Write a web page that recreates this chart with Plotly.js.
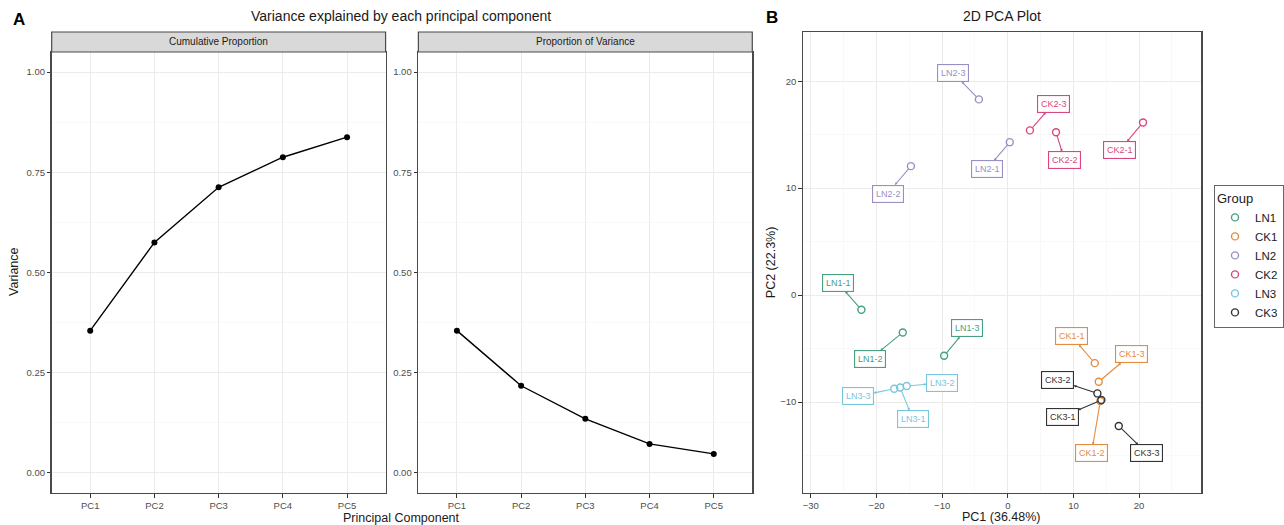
<!DOCTYPE html>
<html>
<head>
<meta charset="utf-8">
<script src="https://cdn.plot.ly/plotly-3.0.1.min.js"></script>
<style>html,body{margin:0;padding:0;background:#fff;}#chart{width:1284px;height:525px;}</style>
</head>
<body>
<div id="chart"></div>
<script>
// ---- Panel A data ----
const components = ['PC1', 'PC2', 'PC3', 'PC4', 'PC5'];
const cumulativeProportion = [0.355, 0.575, 0.7125, 0.7875, 0.8375];
const proportionOfVariance = [0.355, 0.2175, 0.135, 0.0725, 0.0475];
const yTicksA = [0, 0.25, 0.5, 0.75, 1];
const yTickTextA = ['0.00', '0.25', '0.50', '0.75', '1.00'];

// ---- Panel B data ----
const groupOrder = ['LN1', 'CK1', 'LN2', 'CK2', 'LN3', 'CK3'];
const groupColors = ['#45a181', '#e48b3d', '#998fc2', '#dc4580', '#78c6de', '#333333'];
const sampleNames = ['LN1-1','LN1-2','LN1-3','CK1-1','CK1-2','CK1-3','LN2-1','LN2-2','LN2-3','CK2-1','CK2-2','CK2-3','LN3-1','LN3-2','LN3-3','CK3-1','CK3-2','CK3-3'];
const sampleGroups = ['LN1','LN1','LN1','CK1','CK1','CK1','LN2','LN2','LN2','CK2','CK2','CK2','LN3','LN3','LN3','CK3','CK3','CK3'];
const pc1 = [-22.3, -16.0, -9.7, 13.25, 14.1, 13.85, 0.3, -14.76, -4.4, 20.6, 7.35, 3.37, -16.4, -15.4, -17.3, 14.25, 13.65, 16.9];
const pc2 = [-1.37, -3.49, -5.67, -6.36, -9.9, -8.1, 14.3, 12.06, 18.3, 16.14, 15.23, 15.4, -8.63, -8.5, -8.76, -9.81, -9.19, -12.24];
const labelPc1 = [-25.9, -21.0, -6.24, 9.7, 12.74, 18.8, -3.2, -18.3, -8.3, 17.07, 8.66, 6.95, -14.45, -10.0, -22.8, 8.26, 7.6, 21.2];
const labelPc2 = [1.15, -6.0, -3.11, -3.83, -14.8, -5.54, 11.78, 9.5, 20.78, 13.55, 12.6, 17.9, -11.6, -8.2, -9.44, -11.37, -7.94, -14.8];

const W = 1284, H = 525;
const px = v => v / W;
const py = v => 1 - v / H;
const FONT = 'Liberation Sans, Arial, sans-serif';
const TICKC = '#4d4d4d';
const BORDER = '#4a4a4a';

const traces = [];
traces.push({
  x: components, y: cumulativeProportion, xaxis: 'x', yaxis: 'y',
  type: 'scatter', mode: 'lines+markers', showlegend: false, hoverinfo: 'skip',
  line: {color: '#000', width: 1.4}, marker: {color: '#000', size: 6}
});
traces.push({
  x: components, y: proportionOfVariance, xaxis: 'x2', yaxis: 'y2',
  type: 'scatter', mode: 'lines+markers', showlegend: false, hoverinfo: 'skip',
  line: {color: '#000', width: 1.4}, marker: {color: '#000', size: 6}
});

groupOrder.forEach((g, gi) => {
  const xs = [], ys = [];
  sampleGroups.forEach((sg, i) => { if (sg === g) { xs.push(pc1[i]); ys.push(pc2[i]); } });
  traces.push({
    x: xs, y: ys, xaxis: 'x3', yaxis: 'y3', name: g,
    type: 'scatter', mode: 'markers',
    marker: {symbol: 'circle-open', size: 7, color: groupColors[gi], line: {width: 1.4, color: groupColors[gi]}}
  });
});

const annotations = [];
// repel-like labels
sampleNames.forEach((n, i) => {
  const c = groupColors[groupOrder.indexOf(sampleGroups[i])];
  annotations.push({
    x: pc1[i], y: pc2[i], xref: 'x3', yref: 'y3',
    ax: labelPc1[i], ay: labelPc2[i], axref: 'x3', ayref: 'y3',
    text: n, showarrow: true, arrowcolor: c, arrowwidth: 1.1,
    arrowside: 'start', startarrowhead: 2, startarrowsize: 0.5,
    standoff: 3.5, startstandoff: 0,
    font: {family: FONT, size: 9, color: c},
    bordercolor: c, borderwidth: 1.1, borderpad: 2.8, bgcolor: 'rgba(255,255,255,0.95)'
  });
});

function paperText(text, x, y, size, opts) {
  return Object.assign({
    text: text, xref: 'paper', yref: 'paper', x: px(x), y: py(y),
    xanchor: 'center', yanchor: 'middle', showarrow: false,
    font: {family: FONT, size: size, color: '#1a1a1a'}
  }, opts || {});
}
annotations.push(paperText('<b>A</b>', 19, 19, 17, {font: {family: FONT, size: 17, color: '#000'}}));
annotations.push(paperText('<b>B</b>', 777, 18, 17, {font: {family: FONT, size: 17, color: '#000'}}));
annotations.push(paperText('Variance explained by each principal component', 404, 16, 14));
annotations.push(paperText('2D PCA Plot', 1008, 16, 14));
annotations.push(paperText('Cumulative Proportion', 220, 42, 10, {font: {family: FONT, size: 10, color: '#1a1a1a'}}));
annotations.push(paperText('Proportion of Variance', 589, 42, 10, {font: {family: FONT, size: 10, color: '#1a1a1a'}}));
annotations.push(paperText('Variance', 14, 272, 12.5, {textangle: -90}));
annotations.push(paperText('Principal Component', 404, 518, 12.5));
annotations.push(paperText('PC2 (22.3%)', 776, 262, 12.5, {textangle: -90}));
annotations.push(paperText('PC1 (36.48%)', 1008, 517, 12.5));

const shapes = [
  {type: 'rect', xref: 'paper', yref: 'paper', x0: px(52), x1: px(388), y0: py(52), y1: py(32),
   fillcolor: '#d9d9d9', line: {color: BORDER, width: 1.2}, layer: 'above'},
  {type: 'rect', xref: 'paper', yref: 'paper', x0: px(421), x1: px(757), y0: py(52), y1: py(32),
   fillcolor: '#d9d9d9', line: {color: BORDER, width: 1.2}, layer: 'above'}
];

function catAxis(domain) {
  return {
    domain: domain, type: 'category', categoryorder: 'array', categoryarray: components,
    range: [-0.6, 4.6], showgrid: true, gridcolor: '#ebebeb', gridwidth: 1,
    zeroline: false, showline: true, mirror: true, linecolor: BORDER, linewidth: 1.3,
    ticks: 'outside', ticklen: 3.5, tickcolor: '#333', tickwidth: 1,
    tickfont: {family: FONT, size: 9.5, color: TICKC}, fixedrange: true
  };
}
function yAxisA(domain) {
  return {
    domain: domain, range: [-0.05, 1.05], tickvals: yTicksA, ticktext: yTickTextA,
    showgrid: true, gridcolor: '#ebebeb', gridwidth: 1,
    minor: {dtick: 0.125, tick0: 0, showgrid: true, gridcolor: '#f5f5f5', gridwidth: 0.6, ticks: ''},
    zeroline: false, showline: true, mirror: true, linecolor: BORDER, linewidth: 1.3,
    ticks: 'outside', ticklen: 3.5, tickcolor: '#333', tickwidth: 1,
    tickfont: {family: FONT, size: 9.5, color: TICKC}, fixedrange: true
  };
}

const yA = [py(493), py(52)];
const layout = {
  width: W, height: H,
  margin: {l: 0, r: 0, t: 0, b: 0},
  paper_bgcolor: '#fff', plot_bgcolor: '#fff',
  font: {family: FONT},
  showlegend: true,
  xaxis: catAxis([px(52), px(388)]),
  yaxis: Object.assign(yAxisA(yA), {anchor: 'x'}),
  xaxis2: Object.assign(catAxis([px(421), px(757)]), {anchor: 'y2'}),
  yaxis2: Object.assign(yAxisA(yA), {anchor: 'x2'}),
  xaxis3: {
    domain: [px(808), px(1209)], anchor: 'y3', range: [-31.2, 29.5], dtick: 10, tick0: 0,
    showgrid: true, gridcolor: '#ebebeb', gridwidth: 1,
    minor: {dtick: 5, tick0: 0, showgrid: true, gridcolor: '#f5f5f5', gridwidth: 0.6, ticks: ''},
    zeroline: false, showline: true, mirror: true, linecolor: BORDER, linewidth: 1.3,
    ticks: 'outside', ticklen: 3.5, tickcolor: '#333', tickwidth: 1,
    tickfont: {family: FONT, size: 9.5, color: TICKC}, fixedrange: true
  },
  yaxis3: {
    domain: [py(493), py(32)], anchor: 'x3', range: [-18.5, 24.6], dtick: 10, tick0: 0,
    showgrid: true, gridcolor: '#ebebeb', gridwidth: 1,
    minor: {dtick: 5, tick0: 0, showgrid: true, gridcolor: '#f5f5f5', gridwidth: 0.6, ticks: ''},
    zeroline: false, showline: true, mirror: true, linecolor: BORDER, linewidth: 1.3,
    ticks: 'outside', ticklen: 3.5, tickcolor: '#333', tickwidth: 1,
    tickfont: {family: FONT, size: 9.5, color: TICKC}, fixedrange: true
  },
  legend: {
    x: px(1222), y: py(185), xanchor: 'left', yanchor: 'top',
    bordercolor: '#666', borderwidth: 1, bgcolor: '#fff',
    title: {text: 'Group', font: {family: FONT, size: 13, color: '#1a1a1a'}},
    font: {family: FONT, size: 11.5, color: '#1a1a1a'},
    itemwidth: 30, tracegroupgap: 0
  },
  shapes: shapes,
  annotations: annotations
};

Plotly.newPlot('chart', traces, layout, {staticPlot: true, displayModeBar: false});
</script>
</body>
</html>
